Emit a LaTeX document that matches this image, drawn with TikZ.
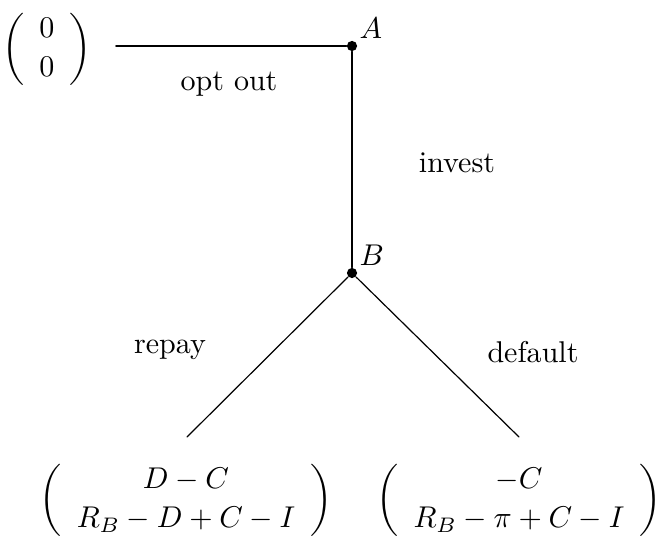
\documentclass[tikz,border=0pt]{standalone}
\usepackage{amsmath}
\renewcommand{\arraystretch}{1.1}
\begin{document}
\begin{tikzpicture}[line join=round, line cap=round, x=0.0117cm, y=-0.0117cm,
    dot/.style={circle, fill=black, inner sep=0pt, minimum size=3.4pt},
    payoff/.style={inner sep=2pt}]
    \useasboundingbox (0,0) rectangle (664,543);
    % decision nodes
    \node[dot] (A) at (352,46) {};
    \node[dot] (B) at (352,273) {};
    \node[anchor=south west, inner sep=1pt] at (A.north east) {$A$};
    \node[anchor=south west, inner sep=1pt] at (B.north east) {$B$};
    % payoffs
    \node[payoff] (zero) at (47,49) {$\left(\begin{array}{c} 0 \\ 0 \end{array}\right)$};
    \node[payoff] (payR) at (186,500) {$\left(\begin{array}{c} D-C \\ R_B-D+C-I \end{array}\right)$};
    \node[payoff] (payD) at (519,500) {$\left(\begin{array}{c} -C \\ R_B-\pi+C-I \end{array}\right)$};
    \coordinate (endR) at (187,437);
    \coordinate (endD) at (519,437);
    % branches
    \draw[thick, shorten <=6pt] (zero.east |- A) -- (A);
    \draw[thick] (A) -- (B);
    \draw[thin] (B) -- (endR);
    \draw[thin] (B) -- (endD);
    % labels
    \node at (229,84) {opt out};
    \node at (457,163) {invest};
    \node at (170,350) {repay};
    \node at (533,352) {default};
\end{tikzpicture}
\end{document}
